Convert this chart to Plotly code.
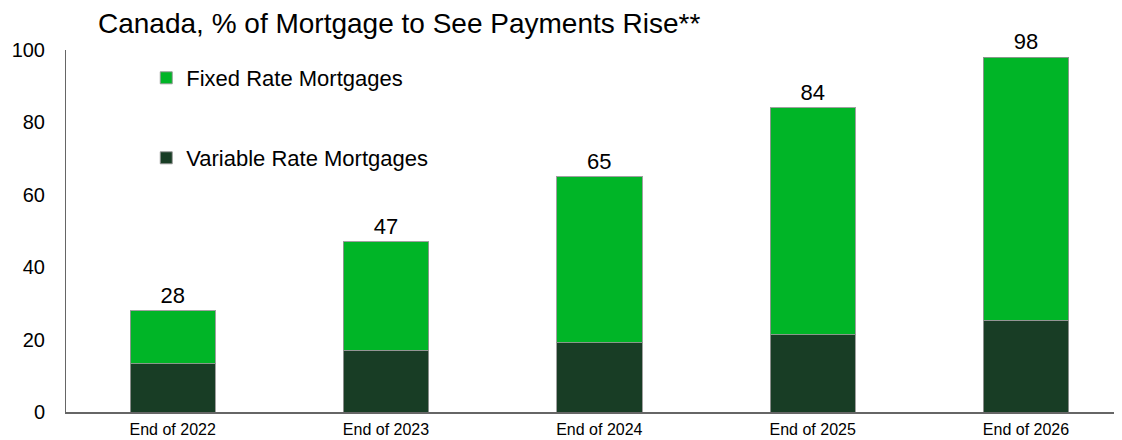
import plotly.graph_objects as go

categories = ["End of 2022", "End of 2023", "End of 2024", "End of 2025", "End of 2026"]
variable_rate = [13.3, 17.1, 19.1, 21.4, 25.3]
fixed_rate = [14.7, 29.9, 45.9, 62.6, 72.7]
totals = [28, 47, 65, 84, 98]

fixed_color = "#00B527"
variable_color = "#183D25"
edge = dict(color="rgba(150,150,150,0.9)", width=1)
font_family = "Liberation Sans, Arial, sans-serif"

# page body has an 8px offset, so the figure is sized to fit the 1122x440 window
W, H = 1114, 432

fig = go.Figure()
fig.add_trace(go.Bar(
    x=categories, y=variable_rate, name="Variable Rate Mortgages",
    marker=dict(color=variable_color, line=edge), width=0.4,
    legend="legend2", textposition="none", hoverinfo="x+y",
))
fig.add_trace(go.Bar(
    x=categories, y=fixed_rate, name="Fixed Rate Mortgages",
    marker=dict(color=fixed_color, line=edge), width=0.4,
    customdata=totals, texttemplate="%{customdata}", textposition="outside",
    textfont=dict(size=22, color="#000000", family=font_family),
    cliponaxis=False, legend="legend",
))

fig.update_layout(
    barmode="stack",
    width=W, height=H,
    margin=dict(l=58, r=0, t=42, b=28, autoexpand=False),
    paper_bgcolor="white", plot_bgcolor="white",
    font=dict(family=font_family, color="#000000"),
    title=dict(text="Canada, % of Mortgage to See Payments Rise**",
               x=90/W, xanchor="left", y=1 - 15/H, yanchor="middle",
               font=dict(size=28, color="#000000")),
    legend=dict(x=0.076, y=(412 - 78) / 362, xref="paper", yref="paper",
                xanchor="left", yanchor="middle",
                font=dict(size=22), bgcolor="rgba(0,0,0,0)"),
    legend2=dict(x=0.076, y=(412 - 158) / 362, xref="paper", yref="paper",
                 xanchor="left", yanchor="middle",
                 font=dict(size=22), bgcolor="rgba(0,0,0,0)"),
    showlegend=True,
    xaxis=dict(range=[-0.5, 4.45], showline=True, linecolor="#666666", linewidth=1.5,
               tickfont=dict(size=16), ticks="", showgrid=False, automargin=False,
               ticklabelstandoff=2),
    yaxis=dict(range=[0, 100], dtick=20, showline=True, linecolor="#666666", linewidth=1,
               tickfont=dict(size=20), ticks="", showgrid=False, zeroline=False,
               ticklabelstandoff=16, automargin=False),
)

fig.write_html("out.html")
